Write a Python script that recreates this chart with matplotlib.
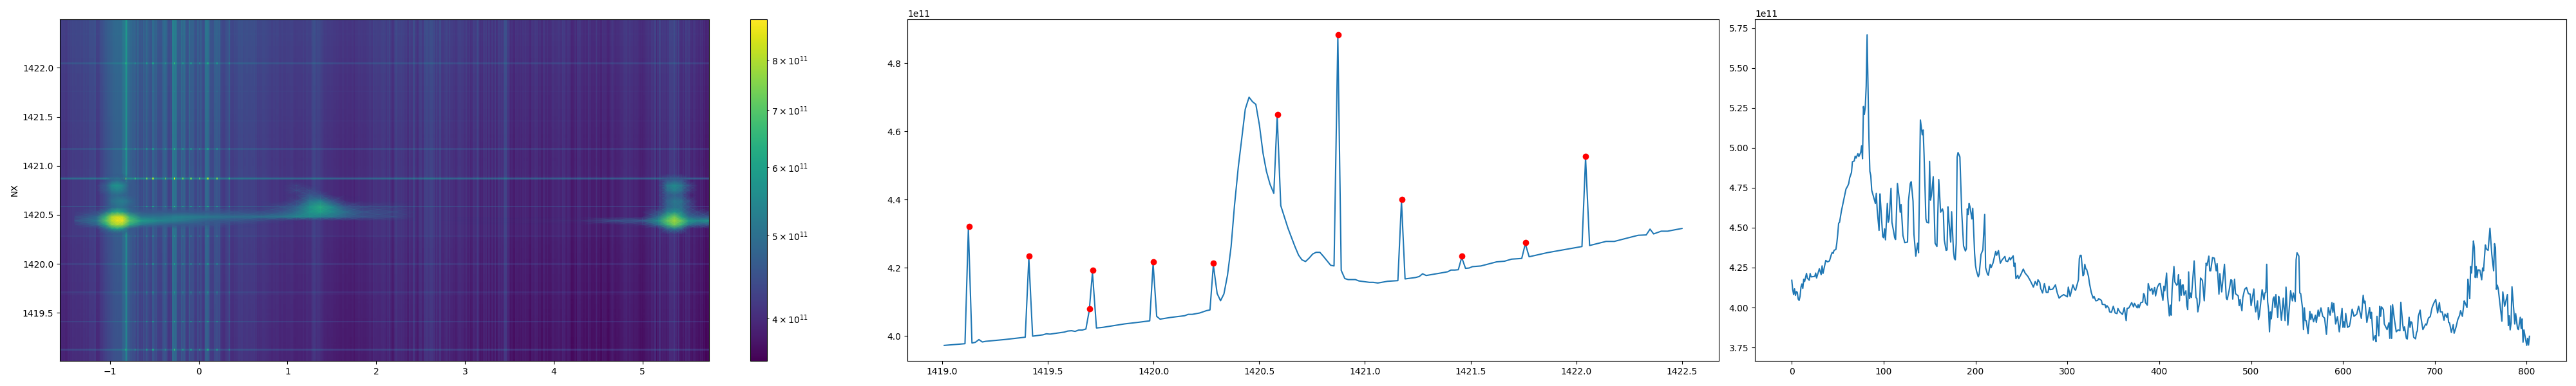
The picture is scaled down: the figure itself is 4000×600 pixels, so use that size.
import numpy as np
import matplotlib
matplotlib.use('Agg')
import matplotlib.pyplot as plt
from matplotlib.colors import LogNorm

E11 = 1e11

# right panel: column mean (units of 1e11)
col_idx = [
    0, 1, 2, 3, 4, 5, 6, 7, 8, 9,
    10, 11, 12, 13, 14, 16, 17, 19, 20, 21,
    25, 26, 27, 30, 32, 33, 34, 37, 39, 41,
    43, 44, 45, 46, 48, 49, 50, 51, 52, 54,
    55, 57, 59, 61, 62, 63, 65, 66, 68, 69,
    70, 72, 73, 75, 76, 77, 78, 79, 80, 81,
    82, 84, 85, 86, 87, 91, 92, 93, 95, 96,
    97, 99, 100, 101, 102, 104, 105, 106, 108, 109,
    111, 112, 113, 115, 117, 118, 119, 121, 123, 126,
    127, 129, 130, 132, 133, 135, 137, 138, 140, 142,
    143, 144, 146, 147, 149, 150, 151, 152, 154, 156,
    158, 160, 162, 164, 165, 166, 168, 169, 170, 171,
    173, 174, 176, 177, 178, 179, 180, 181, 183, 185,
    187, 189, 190, 191, 192, 193, 194, 196, 197, 199,
    200, 201, 203, 204, 206, 208, 210, 211, 213, 214,
    216, 217, 219, 222, 223, 225, 227, 229, 232, 233,
    235, 237, 238, 241, 242, 243, 244, 246, 247, 249,
    252, 254, 257, 260, 263, 265, 267, 268, 270, 271,
    273, 275, 277, 279, 280, 281, 284, 287, 289, 291,
    293, 296, 300, 301, 303, 306, 308, 309, 312, 313,
    314, 315, 317, 318, 319, 320, 321, 323, 324, 326,
    328, 329, 331, 333, 334, 337, 338, 341, 342, 343,
    345, 346, 348, 350, 352, 354, 355, 357, 360, 362,
    364, 365, 367, 370, 372, 373, 376, 377, 378, 380,
    382, 383, 384, 385, 387, 388, 390, 392, 393, 395,
    396, 398, 400, 401, 402, 404, 405, 406, 408, 409,
    411, 412, 413, 414, 416, 417, 419, 420, 421, 422,
    423, 424, 425, 426, 427, 429, 430, 431, 432, 433,
    434, 435, 438, 440, 441, 442, 444, 445, 447, 449,
    451, 452, 454, 455, 456, 458, 460, 462, 463, 465,
    466, 468, 471, 473, 474, 476, 478, 479, 480, 482,
    483, 486, 487, 488, 490, 491, 493, 495, 497, 499,
    500, 503, 504, 505, 507, 508, 509, 512, 514, 515,
    516, 517, 518, 519, 520, 521, 522, 524, 525, 526,
    527, 529, 530, 531, 533, 535, 537, 538, 540, 541,
    543, 545, 546, 548, 549, 550, 552, 553, 554, 556,
    557, 558, 559, 560, 562, 564, 565, 566, 568, 570,
    571, 573, 574, 576, 578, 580, 582, 584, 586, 588,
    589, 590, 592, 594, 596, 599, 600, 601, 602, 603,
    605, 607, 608, 610, 612, 615, 616, 617, 620, 622,
    623, 624, 626, 629, 630, 631, 633, 635, 636, 637,
    639, 640, 641, 642, 644, 645, 648, 650, 651, 652,
    653, 654, 656, 658, 660, 662, 663, 665, 666, 667,
    669, 670, 672, 673, 674, 675, 677, 679, 680, 681,
    682, 684, 685, 687, 690, 691, 693, 695, 697, 699,
    701, 703, 705, 706, 708, 710, 711, 713, 714, 715,
    716, 718, 720, 721, 723, 725, 727, 728, 730, 732,
    733, 735, 736, 737, 738, 739, 740, 742, 743, 744,
    745, 746, 747, 749, 751, 752, 753, 755, 756, 758,
    760, 762, 764, 765, 766, 767, 768, 769, 771, 773,
    774, 776, 779, 780, 781, 782, 783, 784, 786, 787,
    788, 790, 791, 793, 794, 795, 796, 797, 800, 801,
    802, 803,
]
col_vals = [
    4.171, 4.112, 4.081, 4.117, 4.076, 4.100, 4.095, 4.053, 4.045, 4.070,
    4.128, 4.148, 4.120, 4.177, 4.163, 4.214, 4.184, 4.171, 4.213, 4.192,
    4.195, 4.216, 4.185, 4.243, 4.206, 4.261, 4.214, 4.295, 4.286, 4.292,
    4.331, 4.345, 4.339, 4.358, 4.364, 4.403, 4.458, 4.528, 4.534, 4.604,
    4.631, 4.687, 4.742, 4.763, 4.777, 4.812, 4.846, 4.913, 4.918, 4.948,
    4.936, 4.964, 4.946, 4.971, 5.013, 4.932, 5.259, 5.209, 5.255, 5.387,
    5.708, 5.054, 4.853, 4.826, 4.735, 4.652, 4.715, 4.610, 4.483, 4.712,
    4.625, 4.444, 4.437, 4.493, 4.424, 4.652, 4.534, 4.555, 4.747, 4.534,
    4.472, 4.437, 4.426, 4.777, 4.680, 4.597, 4.645, 4.451, 4.406, 4.410,
    4.666, 4.777, 4.788, 4.666, 4.458, 4.322, 4.403, 4.343, 5.175, 5.082,
    5.112, 4.957, 4.555, 4.534, 4.530, 4.916, 4.673, 4.701, 4.819, 4.403,
    4.382, 4.802, 4.597, 4.618, 4.597, 4.424, 4.358, 4.361, 4.631, 4.548,
    4.410, 4.600, 4.354, 4.306, 4.299, 4.403, 4.943, 4.971, 4.943, 4.597,
    4.386, 4.354, 4.368, 4.618, 4.583, 4.652, 4.631, 4.555, 4.622, 4.340,
    4.264, 4.230, 4.192, 4.209, 4.333, 4.361, 4.583, 4.250, 4.209, 4.202,
    4.271, 4.250, 4.278, 4.352, 4.327, 4.357, 4.278, 4.299, 4.320, 4.292,
    4.288, 4.313, 4.299, 4.324, 4.257, 4.278, 4.181, 4.202, 4.181, 4.202,
    4.241, 4.216, 4.195, 4.164, 4.128, 4.163, 4.140, 4.174, 4.156, 4.119,
    4.091, 4.150, 4.095, 4.095, 4.133, 4.112, 4.115, 4.142, 4.091, 4.059,
    4.070, 4.081, 4.067, 4.128, 4.070, 4.142, 4.112, 4.109, 4.174, 4.306,
    4.327, 4.327, 4.199, 4.209, 4.271, 4.243, 4.239, 4.195, 4.153, 4.095,
    4.059, 4.070, 4.042, 4.045, 4.056, 4.045, 4.020, 4.018, 3.998, 4.012,
    3.998, 3.973, 3.970, 4.008, 3.966, 3.962, 3.994, 3.973, 3.957, 4.000,
    3.918, 3.994, 3.998, 4.031, 4.004, 4.026, 3.998, 4.018, 3.998, 4.031,
    4.034, 4.087, 4.077, 4.031, 4.015, 4.150, 4.105, 4.119, 4.084, 4.126,
    4.073, 4.128, 4.150, 4.150, 4.112, 4.045, 4.133, 4.105, 4.216, 4.077,
    3.948, 4.015, 3.952, 4.112, 4.257, 4.160, 4.140, 4.147, 4.206, 4.042,
    4.174, 4.077, 4.140, 4.142, 4.077, 4.105, 4.015, 3.987, 4.223, 4.056,
    4.091, 4.063, 4.292, 4.063, 4.056, 3.973, 4.036, 4.185, 4.170, 4.042,
    4.278, 4.264, 4.322, 4.230, 4.230, 4.313, 4.309, 4.230, 4.275, 4.084,
    4.212, 4.098, 4.271, 4.059, 4.050, 4.105, 4.174, 4.171, 4.053, 4.177,
    4.087, 4.073, 4.012, 4.050, 3.980, 4.063, 4.114, 4.126, 4.087, 4.084,
    4.012, 4.116, 4.015, 3.973, 4.042, 3.925, 3.952, 4.112, 4.050, 4.091,
    4.095, 4.271, 4.036, 3.987, 3.848, 3.973, 3.929, 4.056, 4.067, 4.000,
    4.081, 3.939, 4.070, 4.042, 3.920, 4.059, 3.918, 4.128, 3.890, 3.959,
    4.105, 4.042, 4.091, 4.038, 4.299, 4.343, 4.322, 4.091, 4.087, 3.994,
    3.862, 3.998, 3.918, 3.918, 3.837, 3.976, 3.925, 3.959, 3.911, 3.952,
    3.907, 3.984, 3.945, 3.998, 3.945, 3.934, 3.832, 4.000, 3.952, 4.031,
    3.970, 4.026, 3.897, 3.943, 3.848, 3.994, 3.876, 3.911, 3.876, 3.963,
    3.876, 3.883, 3.911, 3.990, 3.945, 3.959, 3.984, 4.008, 3.932, 4.077,
    4.029, 4.040, 3.907, 4.000, 3.932, 3.970, 3.796, 3.823, 3.786, 3.945,
    3.823, 4.008, 3.945, 4.004, 3.987, 3.897, 3.862, 3.904, 3.807, 4.011,
    3.807, 4.018, 3.925, 3.848, 3.860, 3.855, 4.033, 3.897, 3.855, 3.879,
    3.807, 3.803, 3.939, 3.876, 3.911, 3.907, 3.814, 3.804, 3.842, 3.855,
    3.945, 3.984, 3.932, 3.862, 3.897, 3.890, 3.934, 3.943, 4.000, 4.029,
    4.050, 3.966, 4.031, 3.973, 3.973, 3.920, 3.959, 3.939, 3.963, 3.907,
    3.904, 3.844, 3.893, 3.839, 3.876, 3.925, 3.952, 3.980, 3.945, 4.042,
    4.029, 4.000, 4.177, 4.126, 4.056, 4.257, 4.216, 4.417, 4.375, 4.188,
    4.257, 4.188, 4.236, 4.234, 4.174, 4.248, 4.230, 4.392, 4.368, 4.358,
    4.497, 4.333, 4.230, 4.400, 4.375, 4.114, 4.140, 4.119, 4.015, 3.915,
    4.098, 4.008, 4.081, 3.887, 3.948, 3.860, 3.904, 4.130, 3.980, 3.897,
    3.962, 3.869, 3.862, 3.939, 3.869, 3.929, 3.783, 3.860, 3.763, 3.807,
    3.765, 3.820,
]

# middle panel: row mean
row_x = [
    1419.01, 1419.05, 1419.108, 1419.124, 1419.141, 1419.157, 1419.174, 1419.19, 1419.207, 1419.294,
    1419.393, 1419.41, 1419.428, 1419.477, 1419.493, 1419.51, 1419.578, 1419.594, 1419.612, 1419.629,
    1419.646, 1419.663, 1419.68, 1419.696, 1419.711, 1419.73, 1419.761, 1419.863, 1419.932, 1419.982,
    1419.998, 1420.015, 1420.031, 1420.081, 1420.147, 1420.164, 1420.183, 1420.218, 1420.251, 1420.267,
    1420.283, 1420.301, 1420.317, 1420.333, 1420.35, 1420.367, 1420.383, 1420.401, 1420.417, 1420.434,
    1420.452, 1420.468, 1420.484, 1420.501, 1420.518, 1420.534, 1420.551, 1420.569, 1420.585, 1420.602,
    1420.62, 1420.636, 1420.653, 1420.669, 1420.686, 1420.702, 1420.719, 1420.736, 1420.753, 1420.769,
    1420.787, 1420.804, 1420.821, 1420.838, 1420.854, 1420.872, 1420.888, 1420.905, 1420.921, 1420.955,
    1420.972, 1421.021, 1421.039, 1421.061, 1421.107, 1421.156, 1421.173, 1421.19, 1421.239, 1421.257,
    1421.273, 1421.29, 1421.356, 1421.392, 1421.407, 1421.425, 1421.442, 1421.458, 1421.476, 1421.493,
    1421.509, 1421.549, 1421.623, 1421.661, 1421.694, 1421.742, 1421.759, 1421.777, 1421.863, 1422.027,
    1422.044, 1422.063, 1422.141, 1422.18, 1422.255, 1422.293, 1422.331, 1422.349, 1422.366, 1422.402,
    1422.432, 1422.5,
]
row_vals = [
    3.972, 3.974, 3.977, 4.316, 3.979, 3.981, 3.989, 3.982, 3.984, 3.989,
    3.996, 4.228, 3.999, 4.003, 4.006, 4.005, 4.011, 4.014, 4.015, 4.013,
    4.017, 4.017, 4.020, 4.075, 4.186, 4.023, 4.025, 4.035, 4.040, 4.044,
    4.212, 4.057, 4.049, 4.054, 4.059, 4.063, 4.063, 4.067, 4.074, 4.076,
    4.208, 4.124, 4.103, 4.123, 4.178, 4.262, 4.382, 4.495, 4.577, 4.665,
    4.700, 4.687, 4.679, 4.618, 4.536, 4.483, 4.445, 4.418, 4.645, 4.382,
    4.347, 4.316, 4.288, 4.262, 4.237, 4.223, 4.218, 4.228, 4.240, 4.245,
    4.245, 4.233, 4.220, 4.207, 4.205, 4.878, 4.192, 4.168, 4.165, 4.165,
    4.161, 4.157, 4.157, 4.155, 4.160, 4.162, 4.396, 4.167, 4.171, 4.174,
    4.182, 4.177, 4.184, 4.188, 4.193, 4.193, 4.194, 4.230, 4.198, 4.199,
    4.203, 4.205, 4.217, 4.219, 4.225, 4.227, 4.270, 4.232, 4.244, 4.262,
    4.522, 4.265, 4.277, 4.277, 4.289, 4.295, 4.296, 4.313, 4.299, 4.307,
    4.307, 4.315,
]

# red peak markers on the middle panel
peak_x = [1419.127, 1419.411, 1419.697, 1419.712, 1419.999, 1420.284, 1420.586, 1420.873, 1421.174, 1421.459, 1421.76, 1422.045]
peak_vals = [4.321, 4.234, 4.079, 4.193, 4.218, 4.213, 4.649, 4.883, 4.40, 4.234, 4.274, 4.526]
# how far each peak row stands out on the heatmap
peak_excess = [0.34, 0.23, 0.06, 0.16, 0.17, 0.15, 0.28, 0.70, 0.23, 0.03, 0.04, 0.26]

# bright dots where those rows cross the stripes around x=0
dot_x = [-0.831, -0.717, -0.589, -0.511, -0.378, -0.27, -0.185, -0.088, 0.004, 0.105, 0.203, 0.343]
dot_gain = [2.5, 1.5, 2.5, 3.0, 3.5, 4.0, 2.5, 2.5, 2.5, 3.0, 3.0, 1.5]

# the column mean is lifted by the blobs here, the stripes themselves are lower
cut_ranges = [(45, 81, 0.2), (738, 770, 0.2)]

# broad emission features of the heatmap, colour read at these knots (1e11)
band_x = [-1.4, -1.15, -1.05, -0.98, -0.92, -0.86, -0.78, -0.65, -0.45, -0.2, 0.1,
          0.4, 0.7, 0.95, 1.1, 1.25, 1.37, 1.5, 1.65, 1.85, 2.2, 2.45,
          2.7, 4.3, 4.7, 5.0, 5.18, 5.28, 5.36, 5.44, 5.52, 5.62, 5.751]
band_y = [1420.30, 1420.36, 1420.40, 1420.44, 1420.48, 1420.53, 1420.58, 1420.64, 1420.70, 1420.75, 1420.80, 1420.85, 1420.92]
band_vals = [
    [3.9, 3.9, 3.9, 3.9, 3.9, 3.9, 3.9, 3.9, 3.9, 3.9, 3.9, 3.9, 3.9, 3.9, 3.9, 3.9, 3.9, 3.9, 3.9, 3.9, 3.9, 3.9, 3.9, 3.9, 3.9, 3.9, 3.9, 3.9, 3.9, 3.9, 3.9, 3.9, 3.9],
    [3.9, 3.9, 4.8, 5.8, 6.2, 5.8, 4.6, 3.9, 3.9, 3.9, 3.9, 3.9, 3.9, 3.9, 3.9, 3.9, 3.9, 3.9, 3.9, 3.9, 3.9, 3.9, 3.9, 3.9, 3.9, 3.9, 3.9, 4.8, 5.4, 4.8, 3.9, 3.9, 3.9],
    [4.0, 4.8, 6.2, 7.6, 8.0, 7.8, 6.4, 5.2, 4.8, 4.6, 4.3, 4.0, 3.9, 3.9, 3.9, 3.9, 3.9, 3.9, 3.9, 3.9, 3.9, 3.9, 3.9, 3.9, 3.9, 4.05, 5.0, 6.6, 7.4, 6.6, 5.2, 4.7, 4.6],
    [4.3, 5.2, 7.0, 8.2, 8.7, 8.8, 7.0, 6.0, 5.5, 5.2, 4.7, 4.4, 4.1, 4.0, 3.9, 3.9, 3.9, 3.9, 3.9, 3.9, 3.9, 3.9, 3.9, 4.0, 4.4, 4.5, 5.8, 7.2, 7.9, 7.2, 6.0, 5.6, 5.9],
    [4.1, 4.9, 6.6, 8.1, 8.5, 8.3, 6.6, 5.2, 5.1, 5.4, 5.2, 5.0, 5.1, 5.2, 5.5, 5.6, 5.4, 5.2, 4.8, 4.4, 4.2, 3.9, 3.9, 3.9, 3.9, 3.9, 5.0, 6.6, 7.4, 6.2, 5.0, 4.7, 4.6],
    [3.9, 4.2, 5.0, 6.0, 6.4, 6.0, 5.0, 4.6, 4.5, 4.5, 4.4, 4.3, 4.2, 4.5, 5.0, 5.8, 6.1, 5.6, 5.0, 4.4, 4.2, 3.9, 3.9, 3.9, 3.9, 3.9, 4.3, 5.4, 5.8, 5.4, 4.4, 4.2, 4.1],
    [3.9, 3.9, 3.9, 4.8, 5.0, 5.0, 4.7, 3.9, 3.9, 3.9, 3.9, 3.9, 3.9, 4.3, 4.8, 5.8, 6.3, 5.6, 4.6, 4.2, 4.1, 3.9, 3.9, 3.9, 3.9, 3.9, 3.9, 4.8, 5.1, 5.0, 4.3, 3.9, 3.9],
    [3.9, 3.9, 3.9, 5.0, 5.2, 5.3, 4.9, 3.9, 3.9, 3.9, 3.9, 3.9, 3.9, 3.9, 4.2, 5.2, 5.5, 4.6, 4.0, 3.9, 3.9, 3.9, 3.9, 3.9, 3.9, 3.9, 3.9, 4.8, 5.2, 5.1, 4.3, 3.9, 3.9],
    [3.9, 3.9, 3.9, 4.8, 4.9, 4.8, 4.4, 3.9, 3.9, 3.9, 3.9, 3.9, 3.9, 3.9, 4.0, 4.6, 4.3, 3.9, 3.9, 3.9, 3.9, 3.9, 3.9, 3.9, 3.9, 3.9, 3.9, 4.5, 4.8, 4.6, 3.9, 3.9, 3.9],
    [3.9, 3.9, 4.4, 5.2, 5.4, 5.2, 4.5, 3.9, 3.9, 3.9, 3.9, 3.9, 3.9, 3.9, 4.2, 4.2, 3.9, 3.9, 3.9, 3.9, 3.9, 3.9, 3.9, 3.9, 3.9, 3.9, 3.9, 5.0, 5.4, 5.0, 4.2, 3.9, 3.9],
    [3.9, 3.9, 4.6, 5.6, 5.8, 5.5, 4.6, 3.9, 3.9, 3.9, 3.9, 3.9, 3.9, 3.9, 4.1, 3.9, 3.9, 3.9, 3.9, 3.9, 3.9, 3.9, 3.9, 3.9, 3.9, 3.9, 3.9, 5.2, 5.6, 5.2, 4.3, 3.9, 3.9],
    [3.9, 3.9, 3.9, 4.8, 5.0, 4.8, 3.9, 3.9, 3.9, 3.9, 3.9, 3.9, 3.9, 3.9, 3.9, 3.9, 3.9, 3.9, 3.9, 3.9, 3.9, 3.9, 3.9, 3.9, 3.9, 3.9, 3.9, 4.5, 4.8, 4.5, 3.9, 3.9, 3.9],
    [3.9, 3.9, 3.9, 3.9, 3.9, 3.9, 3.9, 3.9, 3.9, 3.9, 3.9, 3.9, 3.9, 3.9, 3.9, 3.9, 3.9, 3.9, 3.9, 3.9, 3.9, 3.9, 3.9, 3.9, 3.9, 3.9, 3.9, 3.9, 3.9, 3.9, 3.9, 3.9, 3.9],
]

# heatmap limits
x_lo, x_hi = -1.566, 5.751
y_lo, y_hi = 1419.01, 1422.495
v_lo, v_hi = 3.57e11, 8.93e11

W, H = 4000, 600
fig = plt.figure(figsize=(W / 100, H / 100), dpi=100)

def box(l, r, t=30, b=561):
    return [l / W, 1 - b / H, (r - l) / W, (b - t) / H]

ax1 = fig.add_axes(box(93, 1101))
cax = fig.add_axes(box(1165, 1191))
ax2 = fig.add_axes(box(1409, 2669))
ax3 = fig.add_axes(box(2725, 3985))

# heatmap: column stripes times row lines, same profiles as the line plots
cols = np.array(col_vals)
rows = np.array(row_vals)
ry = np.array(row_x)
idx = np.array(col_idx)
cx = x_lo + idx * (x_hi - x_lo) / 803

# take the broad hump out of the rows, it is drawn as the band instead
heat_rows = rows.copy()
hump = (ry > 1420.295) & (ry < 1420.86)
heat_rows[hump] = 4.12
heat_rows[np.argmin(abs(ry - 1420.585))] = 4.40

heat_cols = 3.85 + (cols - 3.85) * 0.95
for lo, hi, cut in cut_ranges:
    heat_cols[(idx >= lo) & (idx <= hi)] -= cut

Z = np.outer(heat_rows, heat_cols) / 4.15
for px, ex in zip(peak_x, peak_excess):
    i = np.argmin(abs(ry - px))
    for dx, g in zip(dot_x, dot_gain):
        Z[i, np.argmin(abs(cx - dx))] += ex * g

norm = LogNorm(v_lo, v_hi)
mesh = ax1.pcolormesh(cx, ry, Z * E11, shading='nearest', cmap='viridis', norm=norm)

band = np.array(band_vals)
band_alpha = np.clip((band - 3.95) / 0.6, 0, 0.92)
# keep faint knots from dragging dark colour into the edges of the band
ax1.pcolormesh(band_x, band_y, np.maximum(band, 4.6) * E11, shading='gouraud',
               cmap='viridis', norm=norm, alpha=band_alpha)

ax1.set_xlim(x_lo, x_hi)
ax1.set_ylim(y_lo, y_hi)
ax1.set_ylabel('NX')
fig.colorbar(mesh, cax=cax)

ax2.plot(row_x, rows * E11)
ax2.plot(peak_x, np.array(peak_vals) * E11, 'ro')

ax3.plot(col_idx, cols * E11)

fig.savefig('out.png', dpi=100)
